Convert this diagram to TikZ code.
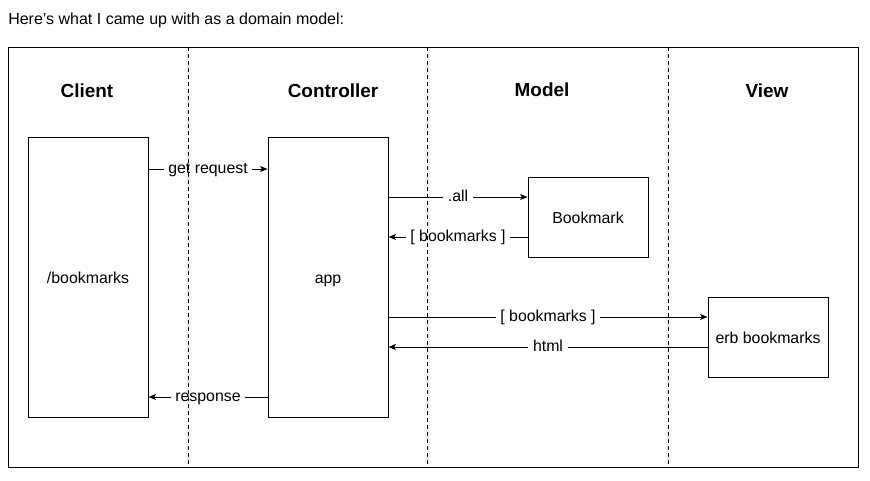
\documentclass[tikz,border=0pt]{standalone}
\usepackage{fontspec}
\setmainfont{Liberation Sans}
\usetikzlibrary{arrows.meta}
\begin{document}
\begin{tikzpicture}[x=0.75pt,y=-0.75pt,
  box/.style={draw,line width=0.75pt,inner sep=0pt,text height=11pt,text depth=1.6pt,font=\fontsize{11.9}{14}\selectfont},
  title/.style={font=\fontsize{14.2}{17}\selectfont\bfseries,inner sep=0pt},
  lbl/.style={fill=white,inner xsep=3.5pt,inner ysep=2pt,text height=8.5pt,text depth=2.1pt,font=\fontsize{11.9}{14}\selectfont},
  arr/.style={line width=0.75pt,-{Stealth[length=5.5pt,width=4.5pt,inset=1.2pt]}},
  sep/.style={line width=0.75pt,dash pattern=on 3pt off 2.25pt}]
\useasboundingbox (0,0) rectangle (870,480);
\node[anchor=base west,inner sep=0pt,font=\fontsize{12}{14}\selectfont] (intro) at (8,24) {Here's what I came up with as a domain model:};
\node[draw,line width=0.75pt,minimum width=637.5pt,minimum height=315pt,inner sep=0pt] (frame) at (433,257) {};
\node[title] (tclient) at (87,90.5) {Client};
\node[title] (tctrl) at (333,90.5) {Controller};
\node[title] (tmodel) at (542,90) {Model};
\node[title] (tview) at (767,90.5) {View};
\node[box,minimum width=90pt,minimum height=210pt] (client) at (88,277) {/bookmarks};
\node[box,minimum width=90pt,minimum height=210pt] (app) at (328,277) {app};
\node[box,minimum width=90pt,minimum height=60pt] (bm) at (588,217) {Bookmark};
\node[box,minimum width=90pt,minimum height=60pt] (erb) at (768,337) {erb bookmarks};
\draw[arr] (client.east |- 0,169) -- node[lbl] {get request} (app.west |- 0,169);
\draw[arr] (app.east |- 0,197) -- node[lbl] {.all} (bm.west |- 0,197);
\draw[arr] (bm.west |- 0,237) -- node[lbl] {[ bookmarks ]} (app.east |- 0,237);
\draw[arr] (app.east |- 0,317) -- node[lbl] {[ bookmarks ]} (erb.west |- 0,317);
\draw[arr] (erb.west |- 0,347) -- node[lbl] {html} (app.east |- 0,347);
\draw[arr] (app.west |- 0,397) -- node[lbl] {response} (client.east |- 0,397);
\coordinate (s1t) at (188,47); \coordinate (s1b) at (188,467);
\coordinate (s2t) at (427,47); \coordinate (s2b) at (427,467);
\coordinate (s3t) at (668,47); \coordinate (s3b) at (668,467);
\draw[sep] (s1t) -- (s1b);
\draw[sep] (s2t) -- (s2b);
\draw[sep] (s3t) -- (s3b);
\end{tikzpicture}
\end{document}
